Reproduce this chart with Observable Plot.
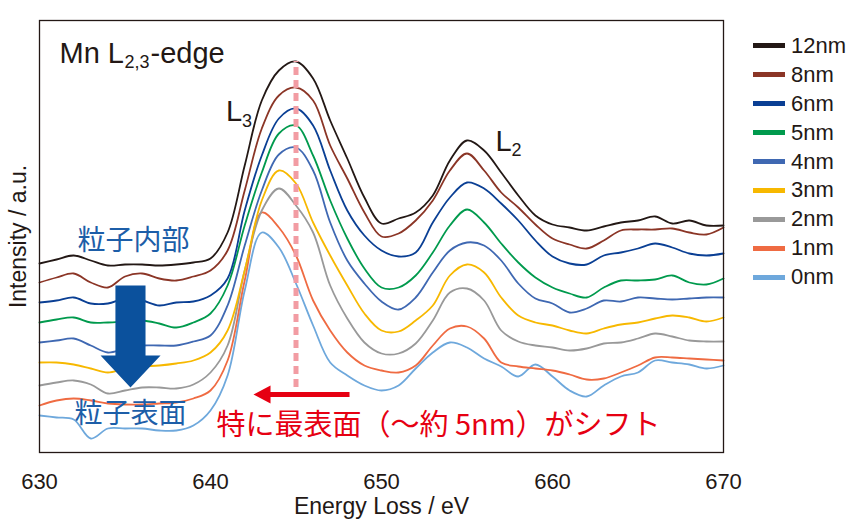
<!DOCTYPE html>
<html><head><meta charset="utf-8">
<script src="https://cdn.jsdelivr.net/npm/d3@7"></script>
<script src="https://cdn.jsdelivr.net/npm/@observablehq/plot@0.6"></script>
<style>
body{margin:0;background:#fff;}
#wrap{position:relative;width:857px;height:525px;font-family:"Liberation Sans",Arial,sans-serif;}
#legend{position:absolute;left:753px;top:31.5px;}
.item{height:28.9px;display:flex;align-items:center;font-size:22px;color:#231815;line-height:1;}
.sw{width:32px;height:5px;margin-right:6px;}
</style></head><body><div id="wrap"></div>
<script>
// Energy loss (eV)
const energy = [630,631,632,633,634,635,636,637,638,639,640,641,642,643,644,645,646,647,648,649,650,651,652,653,654,655,656,657,658,659,660,661,662,663,664,665,666,667,668,669,670];
const xTicks = [630,640,650,660,670];
const labels = ["12nm","8nm","6nm","5nm","4nm","3nm","2nm","1nm","0nm"];
const colors = ["#231815","#8b3526","#0a3f94","#009a4d","#3f68b2","#f7b800","#999999","#ef6b42","#6ea8dc"];

// Intensity (a.u., stacked offsets as in the figure)
const s12 = [189,193,197,192,187,188,188,187,188,190,194,220,287,352,382,391,374,332,294,255,229,234,240,257,292,312,302,280,257,237,228,225,222,226,230,232,236,229,232,227,227];
const s8  = [170,175,179,170,165,176,179,174,172,176,182,202,262,324,357,365,352,307,274,240,216,219,232,252,282,299,282,260,245,228,214,208,204,212,222,223,223,224,220,218,225];
const s6  = [150,152,155,149,149,154,152,147,150,151,157,174,242,297,334,344,327,282,242,217,202,196,200,230,255,270,264,249,232,212,196,189,188,197,200,204,209,205,199,197,199];
const s5  = [130,133,135,130,130,131,132,129,125,130,139,167,227,280,319,327,297,252,214,184,165,165,177,200,227,243,230,209,190,175,165,159,155,165,172,172,173,177,170,168,174];
const s4  = [110,112,114,107,100,104,107,107,107,111,117,147,207,262,298,305,282,230,192,169,151,143,155,180,202,210,207,192,169,154,149,140,144,152,151,155,154,153,154,155,155];
const s3  = [90,90,88,84,80,84,86,87,89,92,100,122,182,252,282,269,230,197,167,139,122,121,132,147,177,188,180,155,137,130,127,122,119,124,128,130,134,137,135,131,135];
const s2  = [67,70,72,68,59,62,65,65,64,68,80,107,182,242,264,247,220,167,134,110,99,99,109,132,160,164,152,122,111,107,105,102,104,109,110,114,119,116,112,111,111];
const s1  = [47,52,54,52,49,48,48,49,50,54,62,92,172,240,225,197,152,122,100,87,82,80,87,107,124,126,114,90,86,84,82,78,73,74,80,87,95,95,94,93,92];
const s0  = [37,35,33,14,24,24,24,22,22,27,42,77,162,220,205,169,127,90,77,67,62,67,84,100,110,105,94,86,76,88,76,62,56,67,76,80,92,90,88,84,87];
const seriesValues = [s12,s8,s6,s5,s4,s3,s2,s1,s0];

const rows = [];
for (let i = labels.length - 1; i >= 0; i--) {
  seriesValues[i].forEach((v, j) => rows.push({energy: energy[j], intensity: v, thickness: labels[i]}));
}

// Annotation shapes (data coordinates)
const blueArrow = [
  {x:634.44,y:167},{x:636.20,y:167},{x:636.20,y:97},{x:637.08,y:97},
  {x:635.32,y:65},{x:633.57,y:97},{x:634.44,y:97}
];
const redArrow = [
  {x:642.51,y:58},{x:643.51,y:67},{x:643.51,y:60.5},{x:648.13,y:60.5},
  {x:648.13,y:55.5},{x:643.51,y:55.5},{x:643.51,y:49}
];

const LAT = '"Liberation Sans", Arial, Helvetica, sans-serif';
const JP = '"Noto Sans CJK JP", sans-serif';
const ink = "#231815";

const plot = Plot.plot({
  width: 857, height: 525,
  marginLeft: 39, marginRight: 134, marginTop: 20, marginBottom: 73,
  style: {fontFamily: LAT, fontSize: "22px", color: ink, background: "white", overflow: "visible"},
  x: {domain: [630, 670]},
  y: {domain: [0, 432], axis: null},
  color: {domain: labels, range: colors},
  marks: [
    Plot.line(rows, {x: "energy", y: "intensity", z: "thickness", stroke: "thickness", strokeWidth: 1.8, curve: "catmull-rom"}),
    Plot.ruleX([645], {y1: 65, y2: 391, stroke: "#f29ca3", strokeWidth: 5, strokeDasharray: "8,5"}),
    Plot.line(blueArrow, {x: "x", y: "y", z: null, fill: "#0b519d", stroke: "none"}),
    Plot.line(redArrow, {x: "x", y: "y", z: null, fill: "#e60012", stroke: "none"}),
    Plot.frame({stroke: ink, strokeWidth: 1.3}),
    Plot.axisX({ticks: xTicks, tickSize: 0, tickPadding: 21, label: null, fontSize: 22, tickFormat: d => String(d)}),
    // axis titles
    Plot.text(["Energy Loss / eV"], {frameAnchor: "bottom", dy: 61, textAnchor: "middle", lineAnchor: "bottom", fontSize: 23, fill: ink}),
    Plot.text(["Intensity / a.u."], {frameAnchor: "left", dx: -14, rotate: -90, textAnchor: "middle", lineAnchor: "bottom", fontSize: 23, fill: ink}),
    // title Mn L2,3-edge
    Plot.text(["Mn L"], {frameAnchor: "top-left", dx: 20, dy: 42, textAnchor: "start", lineAnchor: "bottom", fontSize: 29, fill: ink}),
    Plot.text(["2,3"], {frameAnchor: "top-left", dx: 85, dy: 47, textAnchor: "start", lineAnchor: "bottom", fontSize: 18, fill: ink}),
    Plot.text(["-edge"], {frameAnchor: "top-left", dx: 111, dy: 42, textAnchor: "start", lineAnchor: "bottom", fontSize: 29, fill: ink}),
    // L3, L2 labels
    Plot.text(["L"], {x: 640.9, y: 332, textAnchor: "start", lineAnchor: "bottom", fontSize: 29, fill: ink}),
    Plot.text(["3"], {x: 640.9, y: 332, dx: 16, dy: 6, textAnchor: "start", lineAnchor: "bottom", fontSize: 18, fill: ink}),
    Plot.text(["L"], {x: 656.67, y: 302, textAnchor: "start", lineAnchor: "bottom", fontSize: 29, fill: ink}),
    Plot.text(["2"], {x: 656.67, y: 302, dx: 16, dy: 5, textAnchor: "start", lineAnchor: "bottom", fontSize: 18, fill: ink}),
    // Japanese annotations
    Plot.text(["粒子内部"], {x: 635.5, y: 203, lineAnchor: "bottom", fontSize: 28, fontFamily: JP, fill: "#1d5ea8"}),
    Plot.text(["粒子表面"], {x: 635.32, y: 30, lineAnchor: "bottom", fontSize: 28, fontFamily: JP, fill: "#1d5ea8"}),
    Plot.text(["特に最表面（〜約 5nm）がシフト"], {x: 653.33, y: 18, lineAnchor: "bottom", fontSize: 29, fontFamily: JP, fill: "#e60012"})
  ]
});

const wrap = document.getElementById("wrap");
wrap.appendChild(plot);
const legend = document.createElement("div");
legend.id = "legend";
labels.forEach((k, i) => {
  const it = document.createElement("div");
  it.className = "item";
  const sw = document.createElement("span");
  sw.className = "sw";
  sw.style.background = colors[i];
  const t = document.createElement("span");
  t.textContent = k;
  it.appendChild(sw); it.appendChild(t);
  legend.appendChild(it);
});
wrap.appendChild(legend);
</script></body></html>
